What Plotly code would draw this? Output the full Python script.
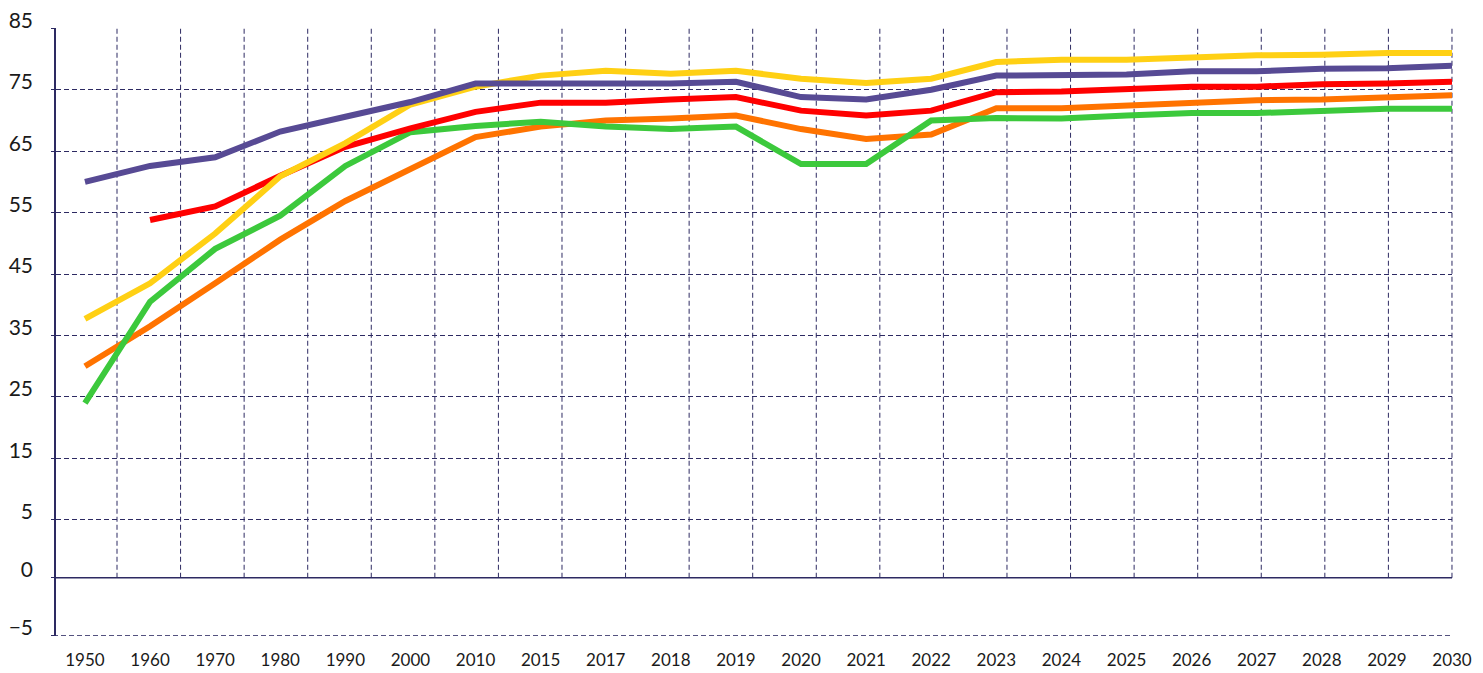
import plotly.graph_objects as go

# Category axis
years = ["1950", "1960", "1970", "1980", "1990", "2000", "2010", "2015", "2017",
         "2018", "2019", "2020", "2021", "2022", "2023", "2024", "2025", "2026",
         "2027", "2028", "2029", "2030"]

# Series values
purple = [60.0, 62.6, 64.0, 68.2, 70.6, 73.0, 76.0, 76.0, 76.0, 76.0, 76.3,
          73.8, 73.4, 75.0, 77.3, 77.5, 77.5, 78.0, 78.0, 78.4, 78.5, 78.9]
yellow = [37.7, 43.5, 51.6, 60.9, 66.3, 72.6, 75.5, 77.3, 78.1, 77.6, 78.1,
          76.8, 76.1, 76.8, 79.5, 79.9, 79.9, 80.3, 80.6, 80.7, 81.0, 81.0]
red = [None, 53.8, 56.0, 61.0, 65.7, 68.7, 71.4, 72.9, 72.9, 73.4, 73.8,
       71.6, 70.8, 71.6, 74.6, 74.7, 75.1, 75.5, 75.5, 75.9, 76.0, 76.3]
orange = [30.0, 36.5, 43.5, 50.6, 56.9, 62.2, 67.3, 69.0, 70.0, 70.3, 70.8,
          68.6, 67.0, 67.7, 72.0, 72.0, 72.5, 73.0, 73.3, 73.4, 73.8, 74.1]
green = [24.0, 40.5, 49.1, 54.5, 62.6, 68.1, 69.1, 69.8, 69.0, 68.6, 69.0,
         62.9, 62.9, 70.0, 70.4, 70.3, 70.8, 71.2, 71.2, 71.5, 71.9, 71.9]

# Y tick labels
y_labels = [85, 75, 65, 55, 45, 35, 25, 15, 5, 0, -5]

# The value axis is compressed below 5: each 5-unit step there is drawn
# slightly shorter than half of a 10-unit step above it.
LOWER_SCALE = (58 / 61.5) * 10 / 5


def axis_pos(v):
    return v if v >= 5 else 5 - (5 - v) * LOWER_SCALE


NAVY = "#2d2a62"
GRID_DASH = "5px,3px"

series = [
    ("Orange", orange, "#ff7300"),
    ("Green", green, "#3cc93c"),
    ("Red", red, "#ff0000"),
    ("Yellow", yellow, "#ffd014"),
    ("Purple", purple, "#574a94"),
]

fig = go.Figure()
for name, vals, color in series:
    fig.add_trace(go.Scatter(
        x=years, y=vals, name=name, mode="lines",
        line=dict(color=color, width=6),
        connectgaps=False, hoverinfo="x+y+name",
    ))

# Vertical dashed grid: 22 evenly spaced lines ending at the right edge,
# running from the top gridline down to the zero line.
W = 1483 - 56 - 31
first_px, step_px = 61.0, 63.57
shapes = []
for k in range(22):
    xp = (first_px + k * step_px) / W
    shapes.append(dict(
        type="line", xref="paper", yref="y", x0=xp, x1=xp,
        y0=axis_pos(0), y1=85, layer="below",
        line=dict(color=NAVY, width=1, dash=GRID_DASH),
    ))
# Solid zero line
shapes.append(dict(
    type="line", xref="paper", yref="y", x0=0, x1=1,
    y0=axis_pos(0), y1=axis_pos(0), layer="below",
    line=dict(color=NAVY, width=1.5),
))
# Dashed bottom gridline at the lowest tick
shapes.append(dict(
    type="line", xref="paper", yref="y", x0=-3 / W, x1=1,
    y0=axis_pos(-5), y1=axis_pos(-5), layer="below",
    line=dict(color=NAVY, width=1, dash=GRID_DASH),
))

tick_font = dict(family="Lato, 'Open Sans', sans-serif", color="#1a1a1a")

fig.update_layout(
    width=1483, height=673,
    margin=dict(l=56, r=31, t=28, b=37),
    paper_bgcolor="white", plot_bgcolor="white",
    showlegend=False,
    shapes=shapes,
    xaxis=dict(
        type="category", range=[-0.445, 21],
        showgrid=False, showline=False, zeroline=False, ticks="",
        tickfont=dict(size=17, **tick_font),
        ticklabelstandoff=12,
        automargin=False,
    ),
    yaxis=dict(
        range=[axis_pos(-5) - 0.05, 85.05],
        tickvals=[axis_pos(v) for v in y_labels],
        ticktext=[str(v).replace("-", "\u2212") for v in y_labels],
        showgrid=True, gridcolor=NAVY, gridwidth=1, griddash=GRID_DASH,
        showline=True, linecolor=NAVY, linewidth=1.5,
        zeroline=False,
        ticks="outside", ticklen=3, tickcolor=NAVY, tickwidth=1,
        tickfont=dict(size=21, **tick_font),
        ticklabelshift=-8,
        ticklabelstandoff=14,
        automargin=False,
    ),
)

fig.write_html("out.html")
